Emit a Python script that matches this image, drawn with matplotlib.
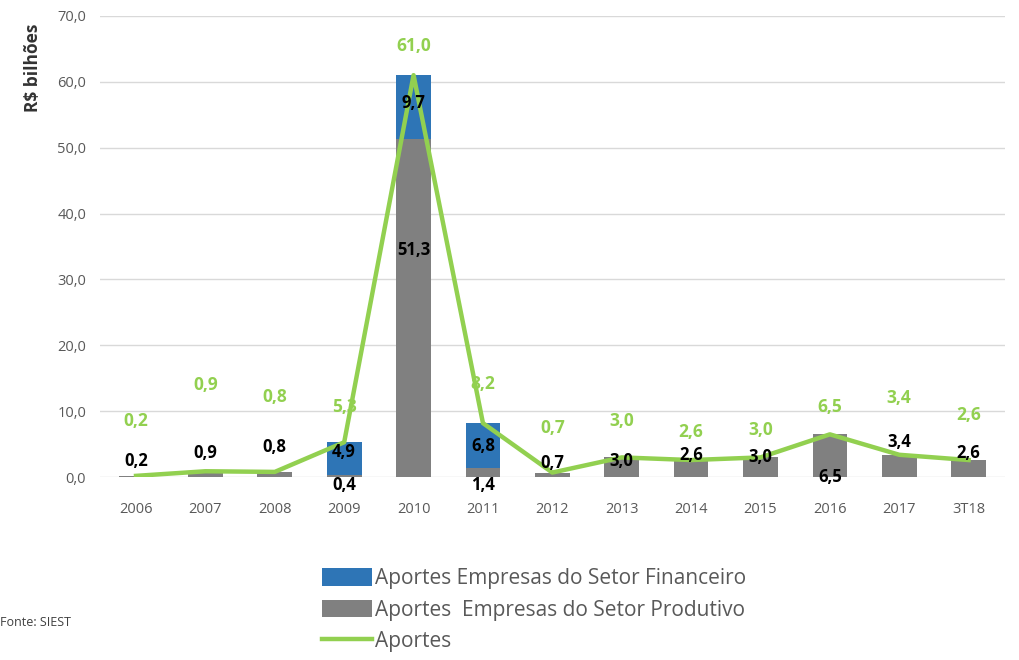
import matplotlib.pyplot as plt
import numpy as np

plt.rcParams['font.family'] = ['Open Sans', 'DejaVu Sans']

# Data (R$ bilhões)
anos = ['2006', '2007', '2008', '2009', '2010', '2011', '2012',
        '2013', '2014', '2015', '2016', '2017', '3T18']
produtivo = [0.2, 0.9, 0.8, 0.4, 51.3, 1.4, 0.7, 3.0, 2.6, 3.0, 6.5, 3.4, 2.6]
financeiro = [0.0, 0.0, 0.0, 4.9, 9.7, 6.8, 0.0, 0.0, 0.0, 0.0, 0.0, 0.0, 0.0]
aportes = [0.2, 0.9, 0.8, 5.3, 61.0, 8.2, 0.7, 3.0, 2.6, 3.0, 6.5, 3.4, 2.6]

# label placement (data units, hand-tuned like the original)
y_lbl_prod = [2.4, 3.6, 4.6, -1.2, 34.4, -1.2, 2.1, 2.4, 3.3, 3.0, 0.0, 5.3, 3.6]
y_lbl_fin = [None, None, None, 3.8, 56.7, 4.7, None, None, None, None, None, None, None]
y_lbl_tot = [8.6, 14.0, 12.1, 10.6, 65.4, 14.1, 7.4, 8.6, 6.8, 7.1, 10.6, 12.0, 9.4]

c_fin = '#2e75b6'
c_prod = '#808080'
c_tot = '#92d050'

fig = plt.figure(figsize=(10.2, 6.6), dpi=100)
ax = fig.add_axes([0.098, 0.277, 0.887, 0.699])

x = np.arange(len(anos))
b_fin = ax.bar(x, financeiro, 0.5, bottom=produtivo, color=c_fin, zorder=2)
b_prod = ax.bar(x, produtivo, 0.5, color=c_prod, zorder=2)
ln, = ax.plot(x, aportes, color=c_tot, lw=3.2, zorder=3)

fmt = lambda v: f'{v:.1f}'.replace('.', ',')
for i in range(len(anos)):
    ax.text(x[i], y_lbl_prod[i], fmt(produtivo[i]), ha='center', va='center',
            fontsize=12, fontweight='bold', color='black', zorder=4, clip_on=False)
    if y_lbl_fin[i] is not None:
        ax.text(x[i], y_lbl_fin[i], fmt(financeiro[i]), ha='center', va='center',
                fontsize=12, fontweight='bold', color='black', zorder=4)
    ax.text(x[i], y_lbl_tot[i], fmt(aportes[i]), ha='center', va='center',
            fontsize=12.5, fontweight='bold', color=c_tot, zorder=4)

ax.set_xlim(-0.52, len(anos) - 0.48)
ax.set_ylim(0, 70)
ax.set_yticks(np.arange(0, 71, 10))
ax.set_yticklabels([fmt(v) for v in np.arange(0, 71, 10)])
ax.set_xticks(x)
ax.set_xticklabels(anos)
ax.tick_params(axis='both', length=0, colors='#595959', labelsize=10.5)
ax.tick_params(axis='x', pad=18)
ax.tick_params(axis='y', pad=10)
ax.grid(axis='y', color='#d9d9d9', lw=1, zorder=0)
for s in ax.spines.values():
    s.set_visible(False)

fig.text(0.032, 0.898, 'R$ bilhões', rotation=90, ha='center', va='center',
         fontsize=12.5, fontweight='bold', color='#333333')
fig.text(0.0, 0.057, 'Fonte: SIEST', ha='left', va='center', fontsize=9, color='#404040')

fig.legend([b_fin, b_prod, ln],
           ['Aportes Empresas do Setor Financeiro',
            'Aportes  Empresas do Setor Produtivo',
            'Aportes'],
           loc='upper left', bbox_to_anchor=(0.305, 0.155),
           frameon=False, fontsize=15, handlelength=2.4, handleheight=0.9,
           handletextpad=0.15, labelspacing=0.5, labelcolor='#595959',
           borderpad=0)

fig.savefig('out.png', dpi=100)
